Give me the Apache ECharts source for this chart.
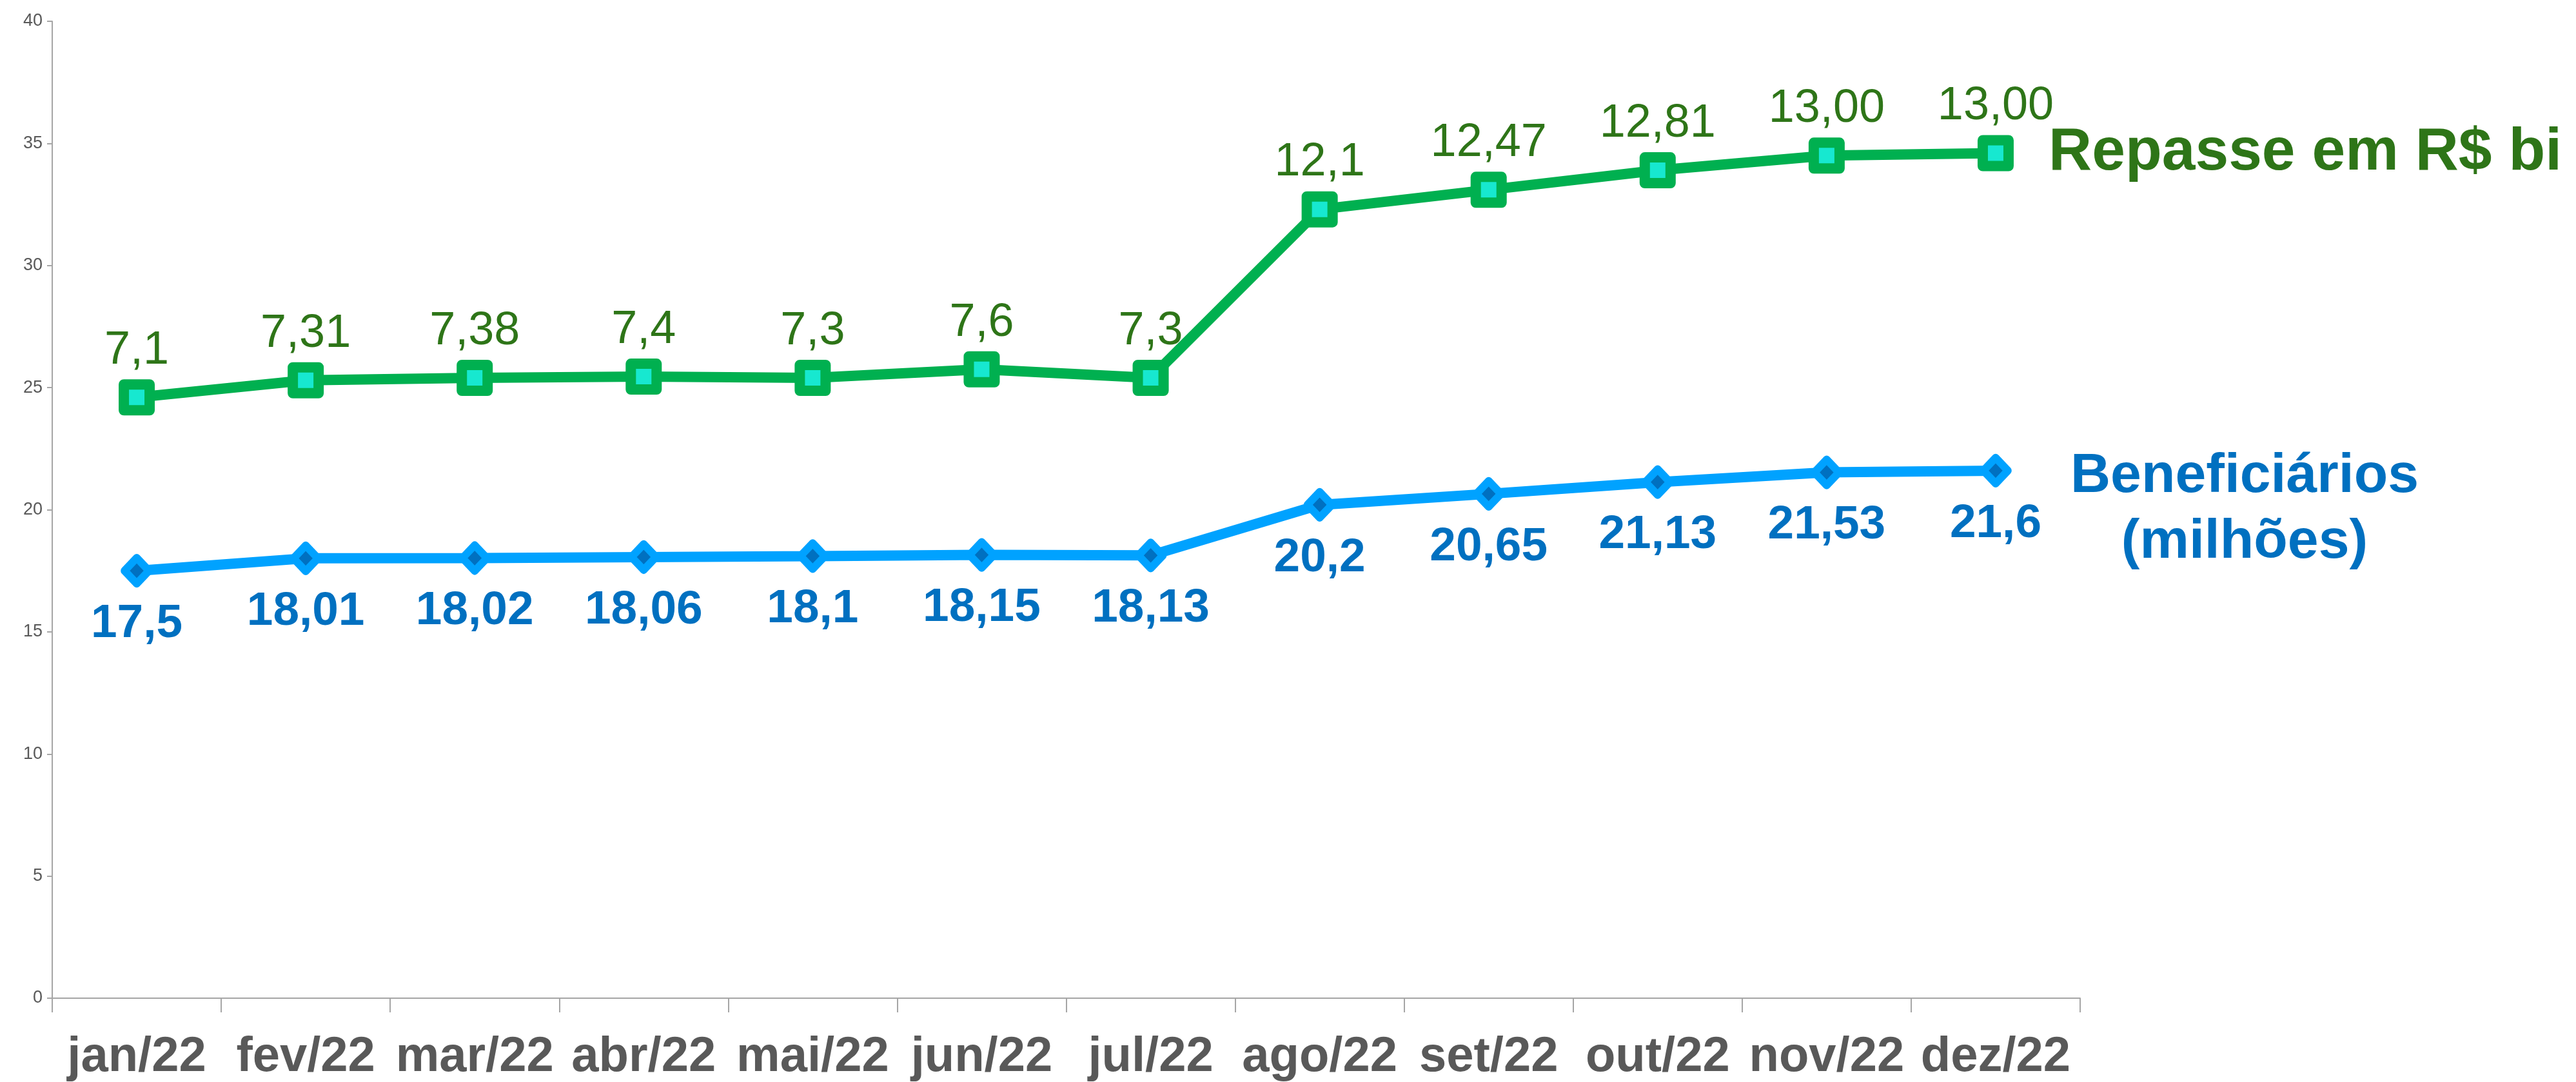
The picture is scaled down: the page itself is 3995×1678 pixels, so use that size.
<!DOCTYPE html>
<html>
<head>
<meta charset="utf-8">
<script src="https://cdn.jsdelivr.net/npm/echarts@6/dist/echarts.min.js"></script>
<style>
  html, body { margin: 0; padding: 0; background: #fff; }
  #chart { width: 3995px; height: 1678px; }
</style>
</head>
<body>
<div id="chart"></div>
<script>
  // categorias (meses)
  var meses = ['jan/22', 'fev/22', 'mar/22', 'abr/22', 'mai/22', 'jun/22', 'jul/22', 'ago/22', 'set/22', 'out/22', 'nov/22', 'dez/22']
  // posição da linha verde no eixo
  var repasseY = [24.6, 25.3, 25.4, 25.45, 25.4, 25.75, 25.4, 32.3, 33.1, 33.9, 34.5, 34.6]
  // rótulos do repasse em R$ bi
  var repasseLabels = ['7,1', '7,31', '7,38', '7,4', '7,3', '7,6', '7,3', '12,1', '12,47', '12,81', '13,00', '13,00']
  // beneficiários (milhões)
  var beneficiarios = [17.5, 18.01, 18.02, 18.06, 18.1, 18.15, 18.13, 20.2, 20.65, 21.13, 21.53, 21.6]
  var yTicks = { min: 0, max: 40, interval: 5 }

  var FONT = "'Liberation Sans', Arial, sans-serif"

  var option = {
    animation: false,
    backgroundColor: '#ffffff',
    grid: {
      left: 81,
      right: 769,
      top: 33,
      bottom: 126,
      containLabel: false
    },
    xAxis: {
      type: 'category',
      data: meses,
      boundaryGap: true,
      axisLine: { lineStyle: { color: '#A6A6A6', width: 2 } },
      axisTick: { show: true, length: 22, lineStyle: { color: '#A6A6A6', width: 2 } },
      axisLabel: {
        interval: 0,
        margin: 54,
        color: '#595959',
        fontFamily: FONT,
        fontWeight: 'bold',
        fontSize: 76
      },
      splitLine: { show: false }
    },
    yAxis: {
      type: 'value',
      min: yTicks.min,
      max: yTicks.max,
      interval: yTicks.interval,
      axisLine: { show: true, lineStyle: { color: '#A6A6A6', width: 2 } },
      axisTick: { show: true, length: 8, lineStyle: { color: '#A6A6A6', width: 2 } },
      axisLabel: {
        margin: 15,
        color: '#595959',
        fontFamily: FONT,
        fontSize: 27
      },
      splitLine: { show: false }
    },
    graphic: [
      {
        type: 'text',
        x: 3177,
        y: 237,
        style: {
          text: 'Repasse em R$ bi',
          fill: '#2E7518',
          font: 'bold 93px ' + FONT,
          textAlign: 'left',
          textVerticalAlign: 'middle'
        }
      },
      {
        type: 'text',
        x: 3481,
        y: 790,
        style: {
          text: 'Beneficiários\n(milhões)',
          fill: '#0070C0',
          font: 'bold 86px ' + FONT,
          textAlign: 'center',
          textVerticalAlign: 'middle',
          lineHeight: 102
        }
      }
    ],
    series: [
      {
        name: 'Repasse em R$ bi',
        type: 'line',
        data: repasseY,
        symbol: 'rect',
        symbolSize: 40,
        lineStyle: { color: '#00B050', width: 16 },
        itemStyle: {
          color: '#17E8D0',
          borderColor: '#00B050',
          borderWidth: 16,
          borderJoin: 'round'
        },
        label: {
          show: true,
          position: 'top',
          distance: 8,
          color: '#2E7518',
          fontFamily: FONT,
          fontSize: 72,
          formatter: function (p) {
            return repasseLabels[p.dataIndex]
          }
        },
        z: 3
      },
      {
        name: 'Beneficiários (milhões)',
        type: 'line',
        data: beneficiarios,
        symbol: 'diamond',
        symbolSize: [38, 40],
        lineStyle: { color: '#00A2FF', width: 16 },
        itemStyle: {
          color: '#0070C0',
          borderColor: '#00A2FF',
          borderWidth: 12,
          borderJoin: 'round'
        },
        label: {
          show: true,
          position: 'bottom',
          distance: 20,
          color: '#0070C0',
          fontFamily: FONT,
          fontWeight: 'bold',
          fontSize: 73,
          formatter: function (p) {
            return String(p.value).replace('.', ',')
          }
        },
        z: 2
      }
    ]
  }

  var chart = echarts.init(document.getElementById('chart'))
  chart.setOption(option)
  window.onresize = function () {
    chart.resize()
  }
</script>
</body>
</html>
